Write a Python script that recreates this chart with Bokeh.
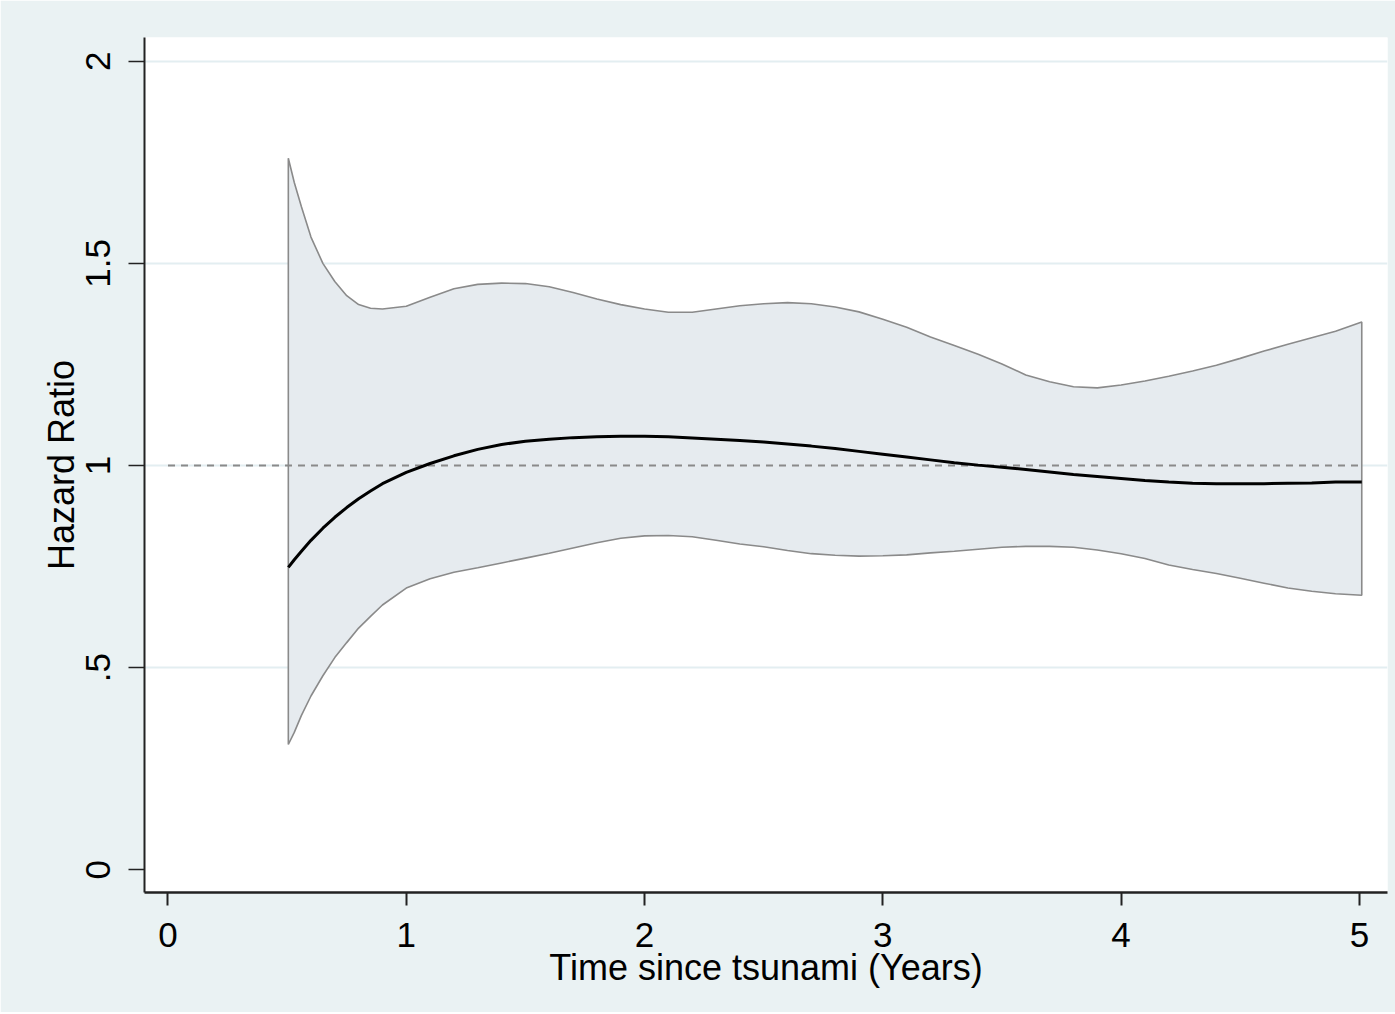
import numpy as np
from bokeh.plotting import figure
from bokeh.models import FixedTicker, Range1d
from bokeh.embed import file_html
from bokeh.resources import INLINE

# ---- data ----
years = [0.505, 0.53, 0.56, 0.6, 0.65, 0.7, 0.75, 0.8, 0.85, 0.9,
         1.0, 1.1, 1.2, 1.3, 1.4, 1.5, 1.6, 1.7, 1.8, 1.9,
         2.0, 2.1, 2.2, 2.3, 2.4, 2.5, 2.6, 2.7, 2.8, 2.9,
         3.0, 3.1, 3.2, 3.3, 3.4, 3.5, 3.6, 3.7, 3.8, 3.9,
         4.0, 4.1, 4.2, 4.3, 4.4, 4.5, 4.6, 4.7, 4.8, 4.9, 5.01]
hr_upper = [1.76, 1.70, 1.64, 1.565, 1.50, 1.455, 1.42, 1.398, 1.389, 1.387,
            1.394, 1.416, 1.437, 1.448, 1.451, 1.450, 1.442, 1.428, 1.412, 1.398,
            1.387, 1.379, 1.379, 1.387, 1.395, 1.400, 1.403, 1.400, 1.392, 1.380,
            1.362, 1.342, 1.318, 1.297, 1.275, 1.251, 1.224, 1.207, 1.195, 1.192,
            1.199, 1.209, 1.221, 1.234, 1.248, 1.265, 1.283, 1.300, 1.316, 1.332, 1.355]
hr_lower = [0.31, 0.34, 0.382, 0.43, 0.48, 0.525, 0.562, 0.598, 0.627, 0.655,
            0.697, 0.72, 0.736, 0.747, 0.759, 0.771, 0.783, 0.796, 0.809, 0.82,
            0.826, 0.827, 0.824, 0.815, 0.806, 0.799, 0.790, 0.782, 0.778, 0.776,
            0.777, 0.779, 0.784, 0.788, 0.793, 0.798, 0.80, 0.80, 0.798, 0.791,
            0.782, 0.77, 0.754, 0.743, 0.733, 0.721, 0.709, 0.697, 0.689, 0.683, 0.679]
hr = [0.748, 0.767, 0.788, 0.815, 0.845, 0.872, 0.896, 0.918, 0.937, 0.955,
      0.983, 1.005, 1.024, 1.040, 1.052, 1.060, 1.065, 1.069, 1.071, 1.0725,
      1.0725, 1.071, 1.068, 1.065, 1.062, 1.058, 1.053, 1.048, 1.042, 1.035,
      1.028, 1.021, 1.014, 1.007, 1.001, 0.996, 0.99, 0.984, 0.978, 0.973,
      0.968, 0.963, 0.959, 0.956, 0.955, 0.955, 0.955, 0.956, 0.957, 0.959, 0.959]
ref_x = [0, 5]
ref_y = [1, 1]
x_ticks = [0, 1, 2, 3, 4, 5]
y_ticks = [0, 0.5, 1, 1.5, 2]
y_tick_labels = ["0", ".5", "1", "1.5", "2"]
grid_ticks = [0.5, 1, 1.5, 2]

FONT = "Liberation Sans"

p = figure(width=1395, height=1012, output_backend="svg", toolbar_location=None,
           x_range=Range1d(-0.0986, 5.118), y_range=Range1d(-0.056, 2.0586),
           min_border_left=144, min_border_right=8, min_border_top=37,
           min_border_bottom=120)
p.border_fill_color = "#eaf2f3"
p.background_fill_color = "white"
p.outline_line_color = None

# grid
p.xgrid.visible = False
p.ygrid.ticker = FixedTicker(ticks=grid_ticks)
p.ygrid.grid_line_color = "#e3eef1"
p.ygrid.grid_line_width = 2

# confidence band
xs = np.array(years, dtype=float)
up = np.array(hr_upper, dtype=float)
lo = np.array(hr_lower, dtype=float)
p.patch(np.concatenate([xs, xs[::-1]]), np.concatenate([up, lo[::-1]]),
        fill_color="#e6ebef", line_color="#8a8a8a", line_width=1.6)

# reference line
p.line(ref_x, ref_y, line_color="#8a8a8a", line_width=2, line_dash="7 6")

# hazard ratio
p.line(years, hr, line_color="black", line_width=3)

# axes
xa = p.xaxis[0]
xa.ticker = FixedTicker(ticks=x_ticks)
xa.axis_label = "Time since tsunami (Years)"
xa.axis_line_color = "#222222"
xa.axis_line_width = 2.5
xa.major_tick_line_color = "#222222"
xa.major_tick_line_width = 2
xa.major_tick_out = 13
xa.major_tick_in = 0
xa.minor_tick_line_color = None
xa.major_label_text_font = FONT
xa.major_label_text_font_size = "35px"
xa.major_label_text_color = "black"
xa.major_label_standoff = 17
xa.axis_label_text_font = FONT
xa.axis_label_text_font_size = "36px"
xa.axis_label_text_font_style = "normal"
xa.axis_label_text_color = "black"
xa.axis_label_standoff = -3

ya = p.yaxis[0]
ya.ticker = FixedTicker(ticks=y_ticks)
ya.major_label_overrides = {t: s for t, s in zip(y_ticks, y_tick_labels)}
ya.major_label_orientation = "vertical"
ya.axis_label = "Hazard Ratio"
ya.axis_line_color = "#222222"
ya.axis_line_width = 2
ya.major_tick_line_color = "#222222"
ya.major_tick_line_width = 1.5
ya.major_tick_out = 16
ya.major_tick_in = 0
ya.minor_tick_line_color = None
ya.major_label_text_font = FONT
ya.major_label_text_font_size = "35px"
ya.major_label_text_color = "black"
ya.major_label_standoff = 18
ya.axis_label_text_font = FONT
ya.axis_label_text_font_size = "36px"
ya.axis_label_text_font_style = "normal"
ya.axis_label_text_color = "black"
ya.axis_label_standoff = 2

open("out.html", "w").write(file_html(p, INLINE))
